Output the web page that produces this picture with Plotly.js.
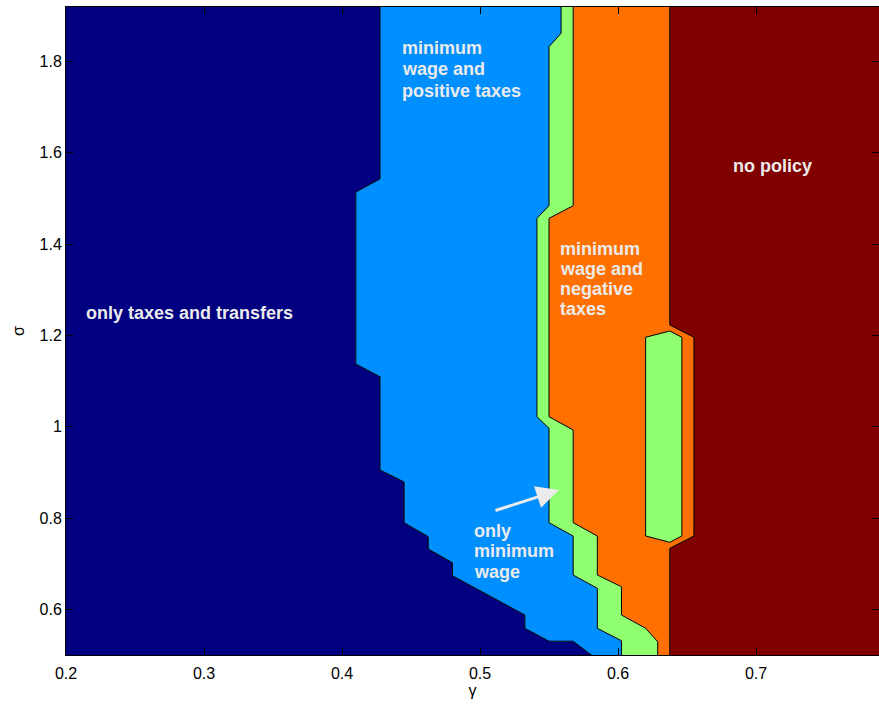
<!DOCTYPE html>
<html>
<head>
<meta charset="utf-8">
<script src="https://cdn.plot.ly/plotly-3.0.1.min.js"></script>
<style>html,body{margin:0;padding:0;background:#fff;}#chart{width:879px;height:710px;}</style>
</head>
<body>
<div id="chart"></div>
<script>
// Region boundaries (gamma, sigma), listed from top to bottom
// navy | light blue
var b1x = [0.4275, 0.4275, 0.41, 0.41, 0.4275, 0.4275, 0.445, 0.445, 0.4625, 0.4625, 0.48, 0.48, 0.5325, 0.5325, 0.55, 0.5675, 0.585];
var b1y = [1.92, 1.5427, 1.5142, 1.1375, 1.1096, 0.9053, 0.879, 0.7898, 0.7591, 0.7322, 0.7022, 0.6737, 0.5876, 0.5585, 0.5302, 0.5302, 0.5];
// light blue | green
var b2x = [0.55875, 0.55875, 0.55, 0.55, 0.54125, 0.54125, 0.55, 0.55, 0.5675, 0.5675, 0.585, 0.585, 0.6025, 0.6025];
var b2y = [1.92, 1.8619, 1.8325, 1.4842, 1.4566, 1.022, 0.9966, 0.7898, 0.7607, 0.6752, 0.6461, 0.5585, 0.5313, 0.5];
// green | orange
var b3x = [0.5675, 0.5675, 0.55, 0.55, 0.5675, 0.5675, 0.585, 0.585, 0.6025, 0.6025, 0.62, 0.62875, 0.62875];
var b3y = [1.92, 1.4842, 1.4566, 1.022, 0.9929, 0.7898, 0.7607, 0.6752, 0.6496, 0.5876, 0.5585, 0.5291, 0.5];
// orange | dark red
var b4x = [0.6375, 0.6375, 0.655, 0.655, 0.6375, 0.6375];
var b4y = [1.92, 1.2229, 1.196, 0.7607, 0.7337, 0.5];
// green island inside the orange region
var islandX = [0.62, 0.6375, 0.64625, 0.64625, 0.6375, 0.62, 0.62];
var islandY = [1.196, 1.2098, 1.196, 0.7607, 0.7469, 0.7607, 1.196];

var xMin = 0.2, xMax = 0.7891, yMin = 0.5, yMax = 1.9195;

var regionColors = ['#000080', '#008FFF', '#8FFF70', '#FF7000', '#800000'];

function rev(a){ return a.slice().reverse(); }
function ext(x, y){ // extend boundary to axis limits
  var xx = x.slice(), yy = y.slice();
  yy[0] = yMax + 0.01; yy[yy.length-1] = yMin - 0.01;
  return [xx, yy];
}
var B = [ext(b1x,b1y), ext(b2x,b2y), ext(b3x,b3y), ext(b4x,b4y)];
var left = [[xMin - 0.01, xMin - 0.01], [yMax + 0.01, yMin - 0.01]];
var right = [[xMax + 0.01, xMax + 0.01], [yMax + 0.01, yMin - 0.01]];
var bounds = [left].concat(B).concat([right]);

var traces = [];
for (var i = 0; i < 5; i++) {
  var L = bounds[i], R = bounds[i+1];
  traces.push({
    type: 'scatter', mode: 'lines', fill: 'toself',
    x: L[0].concat(rev(R[0])).concat([L[0][0]]),
    y: L[1].concat(rev(R[1])).concat([L[1][0]]),
    fillcolor: regionColors[i], line: {width: 0, color: regionColors[i]},
    hoverinfo: 'skip', showlegend: false
  });
}
traces.push({
  type: 'scatter', mode: 'lines', fill: 'toself', x: islandX, y: islandY,
  fillcolor: regionColors[2], line: {width: 1, color: '#000'}, hoverinfo: 'skip', showlegend: false
});
for (var j = 0; j < 4; j++) {
  traces.push({
    type: 'scatter', mode: 'lines', x: B[j][0], y: B[j][1],
    line: {width: 1, color: '#000'}, hoverinfo: 'skip', showlegend: false
  });
}

var labelFont = {family: 'Liberation Sans, Arial, sans-serif', size: 18, color: '#ebebeb', weight: 'bold'};
var labels = [
  {lines: ['only taxes and transfers'], x: 0.2131, y: [1.2485]},
  {lines: ['minimum', 'wage and', 'positive taxes'], x: 0.4421, y: [1.8295, 1.7830, 1.7363]},
  {lines: ['minimum', 'wage and', 'negative', 'taxes'], x: 0.5566, y: [1.3894, 1.3456, 1.3018, 1.2579]},
  {lines: ['no policy'], x: 0.6819, y: [1.5714]},
  {lines: ['only', 'minimum', 'wage'], x: 0.4943, y: [0.7727, 0.7278, 0.6829]}
];
var annotations = [];
labels.forEach(function(g){
  g.lines.forEach(function(t, k){
    annotations.push({x: g.x, y: g.y[k], xref: 'x', yref: 'y', text: '<b>' + t + '</b>',
      showarrow: false, xanchor: 'left', yanchor: 'middle', font: labelFont});
  });
});
annotations.push({x: 0.5572, y: 0.8614, ax: 0.5101, ay: 0.8154, xref: 'x', yref: 'y', axref: 'x', ayref: 'y',
  text: '', showarrow: true, arrowhead: 2, arrowsize: 1.5, arrowwidth: 3, arrowcolor: '#ebebeb'});

var tickFont = {family: 'Liberation Sans, Arial, sans-serif', size: 16, color: '#000'};
var layout = {
  width: 879, height: 710,
  margin: {l: 66, r: 0, t: 7, b: 55},
  paper_bgcolor: '#fff', plot_bgcolor: '#fff',
  showlegend: false, hovermode: false,
  xaxis: {range: [xMin, xMax], tick0: 0.2, dtick: 0.1, ticks: 'inside', ticklen: 7, tickcolor: '#000',
    showline: true, linecolor: '#000', linewidth: 1, mirror: 'allticks', showgrid: false, zeroline: false,
    ticklabelstandoff: 4,
    tickfont: tickFont, title: {text: 'γ', font: tickFont, standoff: 3}},
  yaxis: {range: [yMin, yMax], tick0: 0.2, dtick: 0.2, ticks: 'inside', ticklen: 7, tickcolor: '#000',
    showline: true, linecolor: '#000', linewidth: 1, mirror: 'allticks', showgrid: false, zeroline: false,
    tickfont: tickFont, title: {text: 'σ', font: tickFont, standoff: 10}},
  annotations: annotations
};
Plotly.newPlot('chart', traces, layout, {displayModeBar: false, staticPlot: true});
</script>
</body>
</html>
